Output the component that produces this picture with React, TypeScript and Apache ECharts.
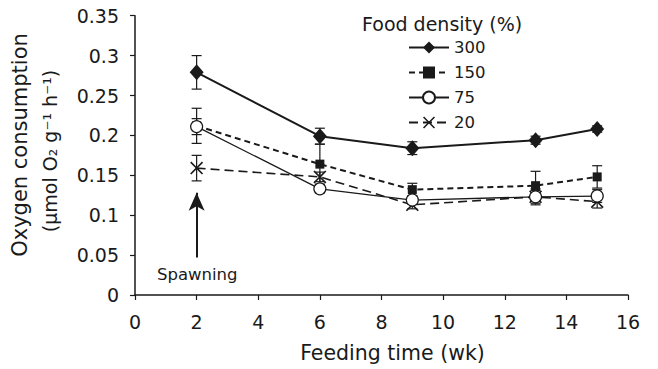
import React, { useEffect, useRef } from "react";
import * as echarts from "echarts";

const weeks = [2, 6, 9, 13, 15];
const seriesNames = ["300", "150", "75", "20"];
const values300 = [0.279, 0.199, 0.184, 0.194, 0.208];
const values150 = [0.212, 0.164, 0.132, 0.137, 0.148];
const values75 = [0.211, 0.133, 0.119, 0.123, 0.124];
const values20 = [0.159, 0.148, 0.113, 0.123, 0.117];
const err300 = [0.021, 0.01, 0.008, 0.005, 0.004];
const err150 = [0.022, 0.025, 0.008, 0.018, 0.014];
const err75 = [0.01, 0.005, 0.005, 0.008, 0.008];
const err20 = [0.016, 0.006, 0.005, 0.01, 0.008];
const arrowFrom = [2, 0.047];
const arrowTo = [2, 0.128];

const FONT = "DejaVu Sans";
const INK = "#1a1a1a";
const CROSS = "path://M0,9L9,0L50,41L91,0L100,9L59,50L100,91L91,100L50,59L9,100L0,91L41,50Z";

function pairs(vals: number[]) {
  return weeks.map((w, i) => [w, vals[i]]);
}
function errData(vals: number[], errs: number[]) {
  return weeks.map((w, i) => [w, vals[i] - errs[i], vals[i] + errs[i]]);
}

const renderErr = (params: any, api: any) => {
  const x = api.value(0);
  const lo = api.coord([x, api.value(1)]);
  const hi = api.coord([x, api.value(2)]);
  const cw = 5;
  const style = { stroke: INK, lineWidth: 1.2 };
  return {
    type: "group",
    children: [
      { type: "line", shape: { x1: lo[0], y1: lo[1], x2: hi[0], y2: hi[1] }, style },
      { type: "line", shape: { x1: lo[0] - cw, y1: lo[1], x2: lo[0] + cw, y2: lo[1] }, style },
      { type: "line", shape: { x1: hi[0] - cw, y1: hi[1], x2: hi[0] + cw, y2: hi[1] }, style },
    ],
  };
};

export default function App() {
  const ref = useRef<HTMLDivElement>(null);
  useEffect(() => {
    if (!ref.current) return;
    const chart = echarts.init(ref.current, null, { renderer: "svg" });
    const errSeries = (vals: number[], errs: number[]) => ({
      type: "custom",
      renderItem: renderErr,
      data: errData(vals, errs),
      z: 1,
      silent: true,
      encode: { x: 0, y: [1, 2] },
    });
    chart.setOption({
      animation: false,
      backgroundColor: "#ffffff",
      textStyle: { fontFamily: FONT, color: INK },
      title: {
        text: "Food density (%)",
        left: 362,
        top: 14,
        padding: 0,
        textStyle: { fontFamily: FONT, fontSize: 19, fontWeight: "normal", color: INK },
      },
      legend: {
        data: seriesNames,
        orient: "vertical",
        left: 408,
        top: 39,
        padding: 0,
        itemWidth: 40,
        itemHeight: 15,
        itemGap: 8,
        selectedMode: false,
        textStyle: { fontFamily: FONT, fontSize: 16.5, color: INK },
      },
      grid: { left: 135, right: 30, top: 15.7, bottom: 74, containLabel: false },
      xAxis: {
        type: "value",
        min: 0,
        max: 16,
        interval: 2,
        splitLine: { show: false },
        axisLine: { lineStyle: { color: INK, width: 1.5 } },
        axisTick: { show: true, length: 5, lineStyle: { color: INK, width: 1.2 } },
        axisLabel: { fontFamily: FONT, fontSize: 19, color: INK, margin: 17 },
        name: "Feeding time (wk)",
        nameLocation: "middle",
        nameGap: 47,
        nameTextStyle: { fontFamily: FONT, fontSize: 20.5, color: INK, padding: [0, 0, 0, 22] },
      },
      yAxis: {
        type: "value",
        min: 0,
        max: 0.35,
        interval: 0.05,
        splitLine: { show: false },
        axisLine: { show: true, lineStyle: { color: INK, width: 1.5 } },
        axisTick: { show: true, length: 5, lineStyle: { color: INK, width: 1.2 } },
        axisLabel: { fontFamily: FONT, fontSize: 19, color: INK, margin: 16 },
      },
      graphic: [
        {
          type: "text",
          x: 20,
          y: 145,
          rotation: Math.PI / 2,
          style: {
            text: "Oxygen consumption",
            fontFamily: FONT,
            fontSize: 21,
            fill: INK,
            align: "center",
            verticalAlign: "middle",
          },
        },
        {
          type: "text",
          x: 50,
          y: 151,
          rotation: Math.PI / 2,
          style: {
            text: "(μmol O₂ g⁻¹ h⁻¹)",
            fontFamily: FONT,
            fontSize: 19,
            fill: INK,
            align: "center",
            verticalAlign: "middle",
          },
        },
        {
          type: "text",
          left: 157,
          top: 266,
          style: { text: "Spawning", fontFamily: FONT, fontSize: 16.5, fill: INK },
        },
      ],
      series: [
        errSeries(values300, err300),
        errSeries(values150, err150),
        errSeries(values75, err75),
        errSeries(values20, err20),
        {
          name: "300",
          type: "line",
          data: pairs(values300),
          z: 5,
          symbol: "diamond",
          symbolSize: [14, 16],
          itemStyle: { color: INK },
          lineStyle: { color: INK, width: 2, type: "solid" },
          markLine: {
            silent: true,
            symbol: ["none", "arrow"],
            symbolSize: [12, 18],
            label: { show: false },
            lineStyle: { color: INK, width: 2, type: "solid" },
            data: [[{ coord: arrowFrom }, { coord: arrowTo }]],
          },
        },
        {
          name: "150",
          type: "line",
          data: pairs(values150),
          z: 3,
          symbol: "rect",
          symbolSize: 9,
          itemStyle: { color: INK },
          lineStyle: { color: INK, width: 2, type: [6, 4] },
        },
        {
          name: "75",
          type: "line",
          data: pairs(values75),
          z: 4,
          symbol: "circle",
          symbolSize: 12,
          itemStyle: { color: "#ffffff", borderColor: INK, borderWidth: 1.2 },
          lineStyle: { color: INK, width: 1.3, type: "solid" },
        },
        {
          name: "20",
          type: "line",
          data: pairs(values20),
          z: 3,
          symbol: CROSS,
          symbolSize: 13,
          itemStyle: { color: INK },
          lineStyle: { color: INK, width: 1.6, type: [9, 5] },
        },
      ],
    });
    return () => chart.dispose();
  }, []);
  return <div ref={ref} style={{ width: 658, height: 369, position: "absolute", left: 0, top: 0 }} />;
}
